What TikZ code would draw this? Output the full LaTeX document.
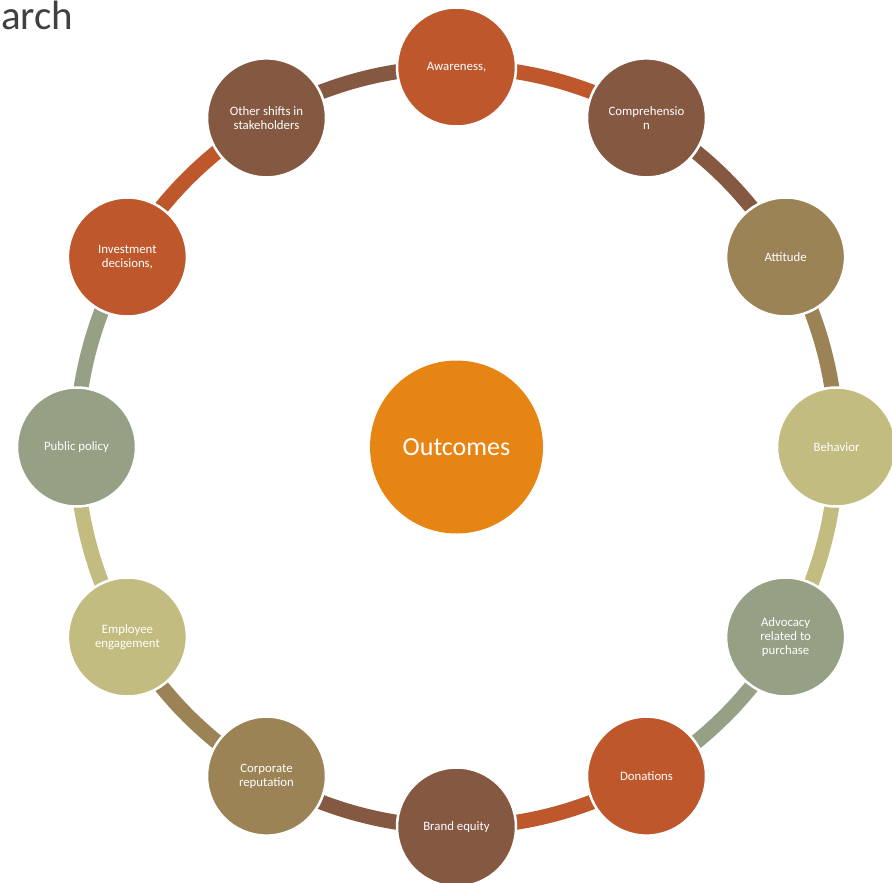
\documentclass[tikz,border=0pt]{standalone}
\usepackage{fontspec}
\setmainfont{Carlito}
\usetikzlibrary{calc}
\definecolor{cOr}{HTML}{BE582C}
\definecolor{cBr}{HTML}{855841}
\definecolor{cOl}{HTML}{9B8356}
\definecolor{cKh}{HTML}{C3BC80}
\definecolor{cSa}{HTML}{95A085}
\definecolor{cCe}{HTML}{E68514}
\definecolor{cTi}{HTML}{404040}
\tikzset{
  ringnode/.style={circle, minimum size=119pt, inner sep=0pt, draw=white, line width=2.5pt,
    text=white, align=center, font=\fontsize{12.8}{14}\selectfont},
  ringlink/.style={line width=15pt},
}
\begin{document}
\begin{tikzpicture}[x=1pt,y=1pt]
\useasboundingbox (0,0) rectangle (892,-883);
\coordinate (O) at (456.5,-447);
\node[anchor=base west, text=cTi, font=\fontsize{41}{41}\selectfont, inner sep=0pt] (title) at (1,-30) {arch};
% positions
\foreach \i in {1,...,12}{
  \coordinate (p\i) at ($(O)+({90-30*(\i-1)}:380)$);
}
% links (colour of preceding node, clockwise)
\foreach \i/\c in {1/cOr,2/cBr,3/cOl,4/cKh,5/cSa,6/cOr,7/cBr,8/cOl,9/cKh,10/cSa,11/cOr,12/cBr}{
  \draw[ringlink, \c] (p\i) arc[start angle={90-30*(\i-1)}, delta angle=-30, radius=380];
}
\node[ringnode, fill=cOr] (n1) at (p1) {Awareness,};
\node[ringnode, fill=cBr] (n2) at (p2) {Comprehensio\\n};
\node[ringnode, fill=cOl] (n3) at (p3) {Attitude};
\node[ringnode, fill=cKh] (n4) at (p4) {Behavior};
\node[ringnode, fill=cSa] (n5) at (p5) {Advocacy\\related to\\purchase};
\node[ringnode, fill=cOr] (n6) at (p6) {Donations};
\node[ringnode, fill=cBr] (n7) at (p7) {Brand equity};
\node[ringnode, fill=cOl] (n8) at (p8) {Corporate\\reputation};
\node[ringnode, fill=cKh] (n9) at (p9) {Employee\\engagement};
\node[ringnode, fill=cSa] (n10) at (p10) {Public policy};
\node[ringnode, fill=cOr] (n11) at (p11) {Investment\\decisions,};
\node[ringnode, fill=cBr] (n12) at (p12) {Other shifts in\\stakeholders};
\node[circle, fill=cCe, minimum size=173pt, inner sep=0pt, text=white,
  font=\fontsize{26}{30}\selectfont] (center) at (O) {Outcomes};
\end{tikzpicture}
\end{document}
